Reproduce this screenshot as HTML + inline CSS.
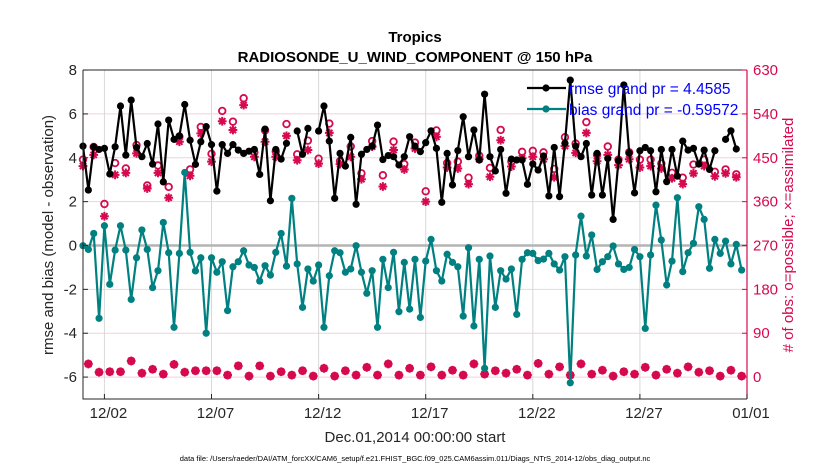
<!DOCTYPE html>
<html><head><meta charset="utf-8"><style>
body{margin:0;background:#fff;width:830px;height:470px;overflow:hidden;font-family:"Liberation Sans",sans-serif}
</style></head><body>
<svg id="chart" width="830" height="470" xmlns="http://www.w3.org/2000/svg" font-family="Liberation Sans, sans-serif"></svg>
<script>
const rmse=[4.53,2.53,4.5,4.38,4.43,3.26,4.5,6.36,4.12,6.63,4.47,4.05,4.65,3.71,5.54,2.9,5.72,4.84,5.0,6.43,4.8,3.7,4.73,5.42,4.6,2.48,4.6,4.2,4.6,4.35,4.2,4.3,4.38,3.24,5.31,2.04,4.38,3.94,4.66,null,5.22,4.16,5.34,null,5.22,6.36,4.76,2.15,4.2,3.62,4.93,1.88,4.16,4.38,4.53,5.49,3.92,4.1,4.05,3.67,4.05,4.96,4.53,4.28,4.69,5.23,4.43,1.97,4.2,2.76,4.33,5.87,4.05,5.27,3.9,6.9,4.05,3.4,4.38,2.38,3.94,3.9,3.9,2.79,3.72,3.44,4.08,2.26,4.47,2.23,4.66,7.54,4.53,4.05,4.65,2.3,4.2,2.3,3.97,1.19,3.87,7.32,4.22,2.4,4.32,4.47,4.32,2.45,4.38,2.91,4.38,3.16,4.76,4.35,4.43,3.71,4.35,3.47,4.32,null,4.84,5.23,4.4,null];
const bias=[-0.01,-0.18,0.55,-3.32,0.9,-1.77,-0.21,0.9,-0.21,-2.46,-0.56,0.71,-0.18,-1.92,-1.15,1.05,-0.33,-3.73,-0.36,3.33,-0.31,-1.16,-0.56,-4.0,-0.56,-1.22,-0.74,-2.97,-0.97,-0.74,-0.24,-0.89,-1.0,-1.62,-0.92,-1.35,-0.31,0.55,-0.94,2.15,-0.84,-2.82,-1.07,-1.62,-0.89,-3.73,-1.38,-0.24,-0.33,-1.22,-1.07,-0.01,-1.22,-2.18,-1.15,-3.73,-0.63,-1.92,-0.31,-3.02,-0.77,-2.9,-0.63,-3.28,-0.71,0.28,-1.15,-1.62,-0.4,-0.77,-0.97,-3.22,-0.1,-3.67,-0.63,-5.6,-0.48,-2.82,-1.15,-1.53,-1.07,-3.14,-0.63,-0.33,-0.36,-0.69,-0.62,-0.36,-0.84,-1.12,-0.51,-6.26,-0.43,1.34,-0.48,0.48,-1.09,-0.74,-0.51,-0.02,-0.84,-1.09,-1.0,-0.18,-0.51,-3.78,-0.43,1.84,0.25,-1.8,-0.71,2.18,-1.19,-0.33,0.1,1.77,1.19,-1.04,0.28,-0.36,0.2,-0.84,0.05,-1.12];
// obs counts at 00Z/12Z (even indices)
const usedMain=[433,456,330,415,419,459,387,419,368,483,413,500,442,525,507,558,452,483,452,495,445,466,438,501,437,452,406,473,391,466,426,469,360,493,430,428,396,447,411,486,432,449,452,447,410,474,460,501,443,456,435,447,430,433,428,408,396,418,433,412,418,410];
const possMain=[440,466,349,433,422,470,387,428,384,487,420,507,452,540,518,566,455,500,457,513,451,479,442,514,437,467,412,478,408,477,431,475,375,500,433,436,403,448,423,501,436,456,458,455,421,486,473,517,450,467,440,455,440,440,432,413,403,430,440,415,420,410];
// obs counts at 06Z/18Z (odd indices)
const usedSub=[27,10,11,11,33,8,16,6,26,10,13,13,13,4,23,2,23,2,11,4,13,2,18,2,13,4,20,4,27,4,18,4,21,4,14,4,27,6,13,8,16,4,28,6,21,4,27,6,14,2,11,6,20,4,16,8,21,10,13,2,14,2];
const possSub=[27,10,11,11,33,8,16,6,26,10,13,13,13,4,23,2,23,2,11,4,13,2,18,2,13,4,20,4,27,4,18,4,21,4,14,4,27,6,13,8,16,4,28,6,21,4,27,6,14,2,11,6,20,4,16,8,21,10,13,2,14,2];
const leftTicks=[8,6,4,2,0,-2,-4,-6];
const rightTicks=[0,90,180,270,360,450,540,630];
const xTickDays=[1,6,11,16,21,26,31];
const xTickLabels=['12/02','12/07','12/12','12/17','12/22','12/27','01/01'];

const NS='http://www.w3.org/2000/svg';
const svg=document.getElementById('chart');
const L=83,R=747,T=70,B=399;
const xDay=d=>L+d*(R-L)/31;
const xi=i=>xDay(i/4);
const yv=v=>245.5-v*21.93;
const yc=c=>yv(c/45-6);
const PINK='#d6094f',TEAL='#008080';
function el(t,a,p){const e=document.createElementNS(NS,t);for(const k in a)e.setAttribute(k,a[k]);(p||svg).appendChild(e);return e;}
function txt(s,a,p){const e=el('text',a,p);e.textContent=s;return e;}

let e=el('rect',{x:L,y:T,width:R-L,height:B-T,fill:'#fff',stroke:'none'});

const grid=el('g',{});
leftTicks.forEach(v=>{el('line',{x1:L,x2:R,y1:yv(v),y2:yv(v),stroke:'#f0d2dc','stroke-width':1},grid);});
xTickDays.forEach(d=>{el('line',{x1:xDay(d),x2:xDay(d),y1:T,y2:B,stroke:'#d8d8d8','stroke-width':1},grid);});
e=el('line',{x1:L,x2:R,y1:yv(0),y2:yv(0),stroke:'#b4b4b4','stroke-width':2.5});


function series(vals,color,name){
  const g=el('g',{});
  let d='',pen=false;
  vals.forEach((v,i)=>{if(v===null){pen=false;return;}d+=(pen?'L':'M')+xi(i).toFixed(1)+' '+yv(v).toFixed(1);pen=true;});
  el('path',{d:d,fill:'none',stroke:color,'stroke-width':2.2,'stroke-linejoin':'round'},g);
  vals.forEach((v,i)=>{if(v===null)return;const c=el('circle',{cx:xi(i),cy:yv(v),r:3.6,fill:color},g);
    });
}
function star(x,y,g){const r=4.4;let d='';for(let k=0;k<4;k++){const a=k*Math.PI/4;d+=`M${x-r*Math.cos(a)} ${y-r*Math.sin(a)}L${x+r*Math.cos(a)} ${y+r*Math.sin(a)}`;}
  const s=el('path',{d:d,stroke:PINK,'stroke-width':2,fill:'none'},g);}
function counts(used,poss,offset,shift,name){
  const g=el('g',{});
  used.forEach((c,k)=>{const i=offset+2*k;const x=xi(i);
    const o=el('circle',{cx:x,cy:yc(poss[k])-shift,r:3.3,fill:'none',stroke:PINK,'stroke-width':1.8},g);
    
    star(x,yc(c),g);});
}
counts(usedMain,possMain,0,3,'obs-count-00z-12z');
counts(usedSub,possSub,1,0,'obs-count-06z-18z');
series(rmse,'#000','rmse-series');
series(bias,TEAL,'bias-series');

e=el('path',{d:`M${L} ${T}H${R}M${L} ${T}V${B}H${R}`,fill:'none',stroke:'#262626','stroke-width':1});

e=el('line',{x1:R,x2:R,y1:T,y2:B,stroke:PINK,'stroke-width':1.2});


const lt=el('g',{});
leftTicks.forEach(v=>{el('line',{x1:L,x2:L+5,y1:yv(v),y2:yv(v),stroke:'#262626'},lt);
  txt(String(v),{x:L-6,y:yv(v)+5,'text-anchor':'end','font-size':15,fill:'#262626'},lt);});
const rt=el('g',{});
rightTicks.forEach(c=>{el('line',{x1:R-5,x2:R,y1:yc(c),y2:yc(c),stroke:PINK},rt);
  txt(String(c),{x:R+6,y:yc(c)+5,'font-size':15,fill:PINK},rt);});
const xt=el('g',{});
xTickDays.forEach((d,k)=>{el('line',{x1:xDay(d),x2:xDay(d),y1:B,y2:B-5,stroke:'#262626'},xt);
  txt(xTickLabels[k],{x:xDay(d)+4,y:418,'text-anchor':'middle','font-size':15,fill:'#262626'},xt);});

e=txt('Tropics',{x:415,y:42,'text-anchor':'middle','font-size':15,'font-weight':'bold',fill:'#000'});

e=txt('RADIOSONDE_U_WIND_COMPONENT @ 150 hPa',{x:415,y:62,'text-anchor':'middle','font-size':15,'font-weight':'bold',fill:'#000'});

e=txt('rmse and bias (model - observation)',{x:0,y:0,'text-anchor':'middle','font-size':15,fill:'#262626',transform:'translate(53,235) rotate(-90)'});

e=txt('# of obs: o=possible; \u00d7=assimilated',{x:0,y:0,'text-anchor':'middle','font-size':15,fill:PINK,transform:'translate(793,235) rotate(-90)'});

e=txt('Dec.01,2014 00:00:00 start',{x:415,y:442,'text-anchor':'middle','font-size':15,fill:'#262626'});

e=txt('data file: /Users/raeder/DAI/ATM_forcXX/CAM6_setup/f.e21.FHIST_BGC.f09_025.CAM6assim.011/Diags_NTrS_2014-12/obs_diag_output.nc',{x:415,y:461,'text-anchor':'middle','font-size':7.5,fill:'#000'});


const lg=el('g',{});
const le1=el('g',{},lg);
el('line',{x1:527,x2:566,y1:88,y2:88,stroke:'#000','stroke-width':2.2},le1);el('circle',{cx:546,cy:88,r:3.6,fill:'#000'},le1);
txt('rmse grand pr = 4.4585',{x:569,y:94,'font-size':15.5,fill:'#0000ff'},le1);
const le2=el('g',{},lg);
el('line',{x1:527,x2:566,y1:109,y2:109,stroke:TEAL,'stroke-width':2.2},le2);el('circle',{cx:546,cy:109,r:3.6,fill:TEAL},le2);
txt('bias grand pr = -0.59572',{x:569,y:115,'font-size':15.5,fill:'#0000ff'},le2);
</script>
</body></html>
